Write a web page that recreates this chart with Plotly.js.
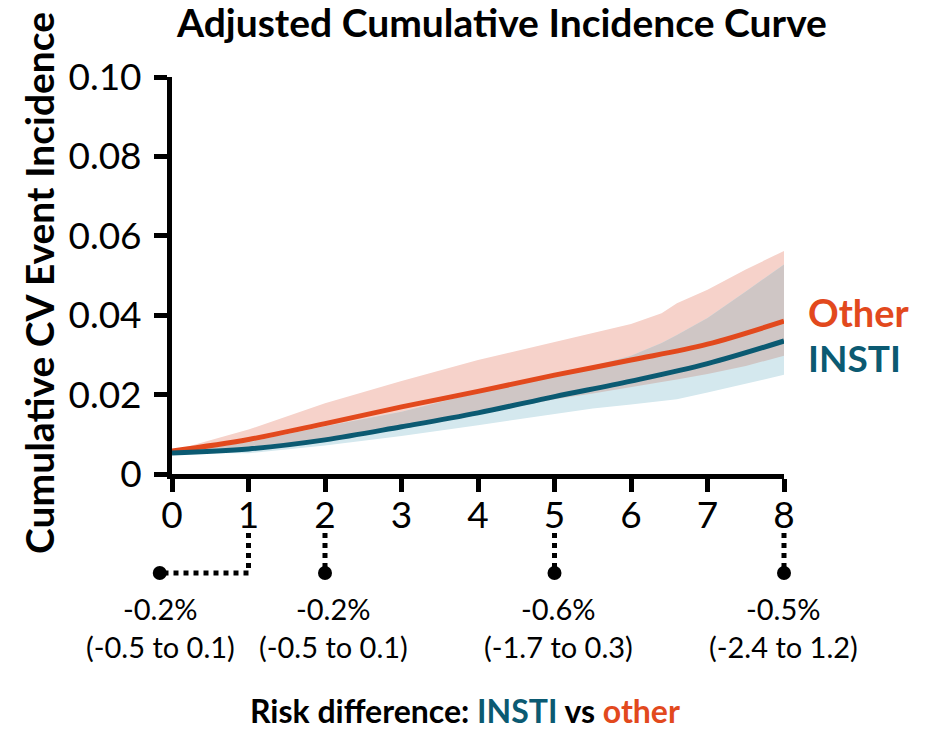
<!DOCTYPE html>
<html>
<head>
<meta charset="utf-8">
<script src="https://cdn.plot.ly/plotly-3.0.1.min.js"></script>
<style>html,body{margin:0;padding:0;background:#fff;} #chart{width:938px;height:731px;}</style>
</head>
<body>
<div id="chart"></div>
<script>
// ---- data ----
const years = [0, 1, 2, 3, 4, 5, 6, 7, 8];
const otherCurve = [0.0058, 0.0087, 0.0127, 0.0169, 0.0208, 0.0249, 0.0287, 0.0327, 0.0385];
const instiCurve = [0.0053, 0.0063, 0.0086, 0.0119, 0.0154, 0.0195, 0.0234, 0.0278, 0.0335];

const bandYears = [0, 1, 2, 3, 4, 5, 5.5, 6, 6.4, 6.6, 7, 7.5, 8];
const otherUpper = [0.0058, 0.0112, 0.0178, 0.0234, 0.0287, 0.0333, 0.0355, 0.0378, 0.0405, 0.0430, 0.0464, 0.0515, 0.0562];
const otherLower = [0.0058, 0.0068, 0.0088, 0.0116, 0.0150, 0.0188, 0.0203, 0.0220, 0.0232, 0.0238, 0.0252, 0.0272, 0.0298];
const instiUpper = [0.0053, 0.0080, 0.0120, 0.0157, 0.0205, 0.0250, 0.0272, 0.0298, 0.0330, 0.0350, 0.0393, 0.0460, 0.0528];
const instiLower = [0.0053, 0.0052, 0.0072, 0.0096, 0.0123, 0.0152, 0.0165, 0.0175, 0.0183, 0.0188, 0.0205, 0.0228, 0.0250];

const xTicks = [0, 1, 2, 3, 4, 5, 6, 7, 8];
const yTicks = [0, 0.02, 0.04, 0.06, 0.08, 0.10];
const yTickText = ['0', '0.02', '0.04', '0.06', '0.08', '0.10'];

const rdYears = [1, 2, 5, 8];
const rdDotX = [-0.16, 2, 5, 8];
const rdValue = ['-0.2%', '-0.2%', '-0.6%', '-0.5%'];
const rdCI = ['(-0.5 to 0.1)', '(-0.5 to 0.1)', '(-1.7 to 0.3)', '(-2.4 to 1.2)'];

// ---- styles ----
const ORANGE = '#E2491D';
const TEAL = '#0B5A72';
const PINK = '#F6D2CA';
const LIGHTBLUE = '#D4E8EE';
const GREY = '#CFC6C5';
const FONT = 'Lato, sans-serif';

// pixel helpers for layout placement
const L = 172, R = 784, T = 77, B = 474;
const X_MIN = 0, X_MAX = 8;
const px = x => (x - L) / (R - L);
const py = y => (B - y) / (B - T);
const xToPaper = v => (v - X_MIN) / (X_MAX - X_MIN);

const overlapLower = bandYears.map((_, i) => Math.max(otherLower[i], instiLower[i]));
const overlapUpper = bandYears.map((_, i) => Math.min(otherUpper[i], instiUpper[i]));

function band(lower, upper, color) {
  return [
    {x: bandYears, y: lower, mode: 'lines', line: {width: 0, color: color}, hoverinfo: 'skip', showlegend: false},
    {x: bandYears, y: upper, mode: 'lines', line: {width: 0, color: color}, fill: 'tonexty', fillcolor: color, hoverinfo: 'skip', showlegend: false}
  ];
}

const traces = [
  ...band(otherLower, otherUpper, PINK),
  ...band(instiLower, instiUpper, LIGHTBLUE),
  ...band(overlapLower, overlapUpper, GREY),
  {x: years, y: otherCurve, mode: 'lines', line: {color: ORANGE, width: 5, shape: 'spline'}, showlegend: false, name: 'Other'},
  {x: years, y: instiCurve, mode: 'lines', line: {color: TEAL, width: 5, shape: 'spline'}, showlegend: false, name: 'INSTI'}
];

// risk difference connectors (below axis)
const shapes = [];
const yTop = py(533), yDot = py(573);
rdYears.forEach((yr, i) => {
  const xp = xToPaper(yr);
  shapes.push({type: 'line', xref: 'paper', yref: 'paper', x0: xp, x1: xp, y0: yTop, y1: yDot, line: {color: '#000', width: 5, dash: 'dot'}});
  if (i === 0) {
    shapes.push({type: 'line', xref: 'paper', yref: 'paper', x0: xp, x1: xToPaper(rdDotX[i]), y0: yDot, y1: yDot, line: {color: '#000', width: 5, dash: 'dot'}});
  }
  shapes.push({type: 'circle', xref: 'paper', yref: 'paper', xsizemode: 'pixel', ysizemode: 'pixel',
               xanchor: xToPaper(rdDotX[i]), yanchor: yDot, x0: -7, x1: 7, y0: -7, y1: 7,
               fillcolor: '#000', line: {color: '#000', width: 0}});
});

const annotations = [
  {text: '<b>Adjusted Cumulative Incidence Curve</b>', x: px(501), y: py(22), font: {size: 39, color: '#000'}},
  {text: '<b>Cumulative CV Event Incidence</b>', x: px(39), y: py(283), textangle: -90, font: {size: 39, color: '#000'}},
  {text: '<b>Other</b>', x: px(806), y: py(312), xanchor: 'left', font: {size: 38, color: ORANGE}},
  {text: '<b>INSTI</b>', x: px(806), y: py(357), xanchor: 'left', font: {size: 37, color: TEAL}},
  {text: '<b>Risk difference: <span style="color:' + TEAL + '">INSTI</span> vs <span style="color:' + ORANGE + '">other</span></b>', x: px(465), y: py(710), font: {size: 32, color: '#000'}}
];
const rdCenters = [160, 333, 558, 783];
rdValue.forEach((v, i) => {
  annotations.push({text: v, x: px(rdCenters[i]), y: py(608), font: {size: 29, color: '#000'}});
  annotations.push({text: rdCI[i], x: px(rdCenters[i]), y: py(646), font: {size: 29, color: '#000'}});
});
annotations.forEach(a => { a.xref = 'paper'; a.yref = 'paper'; a.showarrow = false; if (!a.xanchor) a.xanchor = 'center'; a.yanchor = 'middle'; a.font.family = FONT; });

const axisCommon = {showgrid: false, zeroline: false, showline: true, linecolor: '#000', linewidth: 5,
  ticks: 'outside', ticklen: 13, tickwidth: 5, tickcolor: '#000', tickfont: {size: 37, family: FONT, color: '#000'}, fixedrange: true};

const layout = {
  width: 938, height: 731,
  margin: {l: L, r: 938 - R, t: T, b: 731 - B, pad: 0},
  paper_bgcolor: '#fff', plot_bgcolor: '#fff',
  showlegend: false,
  font: {family: FONT, color: '#000'},
  xaxis: Object.assign({range: [X_MIN, X_MAX], tickvals: xTicks, ticktext: xTicks.map(String), ticklabelstandoff: -8}, axisCommon),
  yaxis: Object.assign({range: [0, 0.1], tickvals: yTicks, ticktext: yTickText, ticklabelstandoff: 5}, axisCommon),
  shapes: shapes,
  annotations: annotations
};

Plotly.newPlot('chart', traces, layout, {staticPlot: true, displayModeBar: false});
</script>
</body>
</html>
